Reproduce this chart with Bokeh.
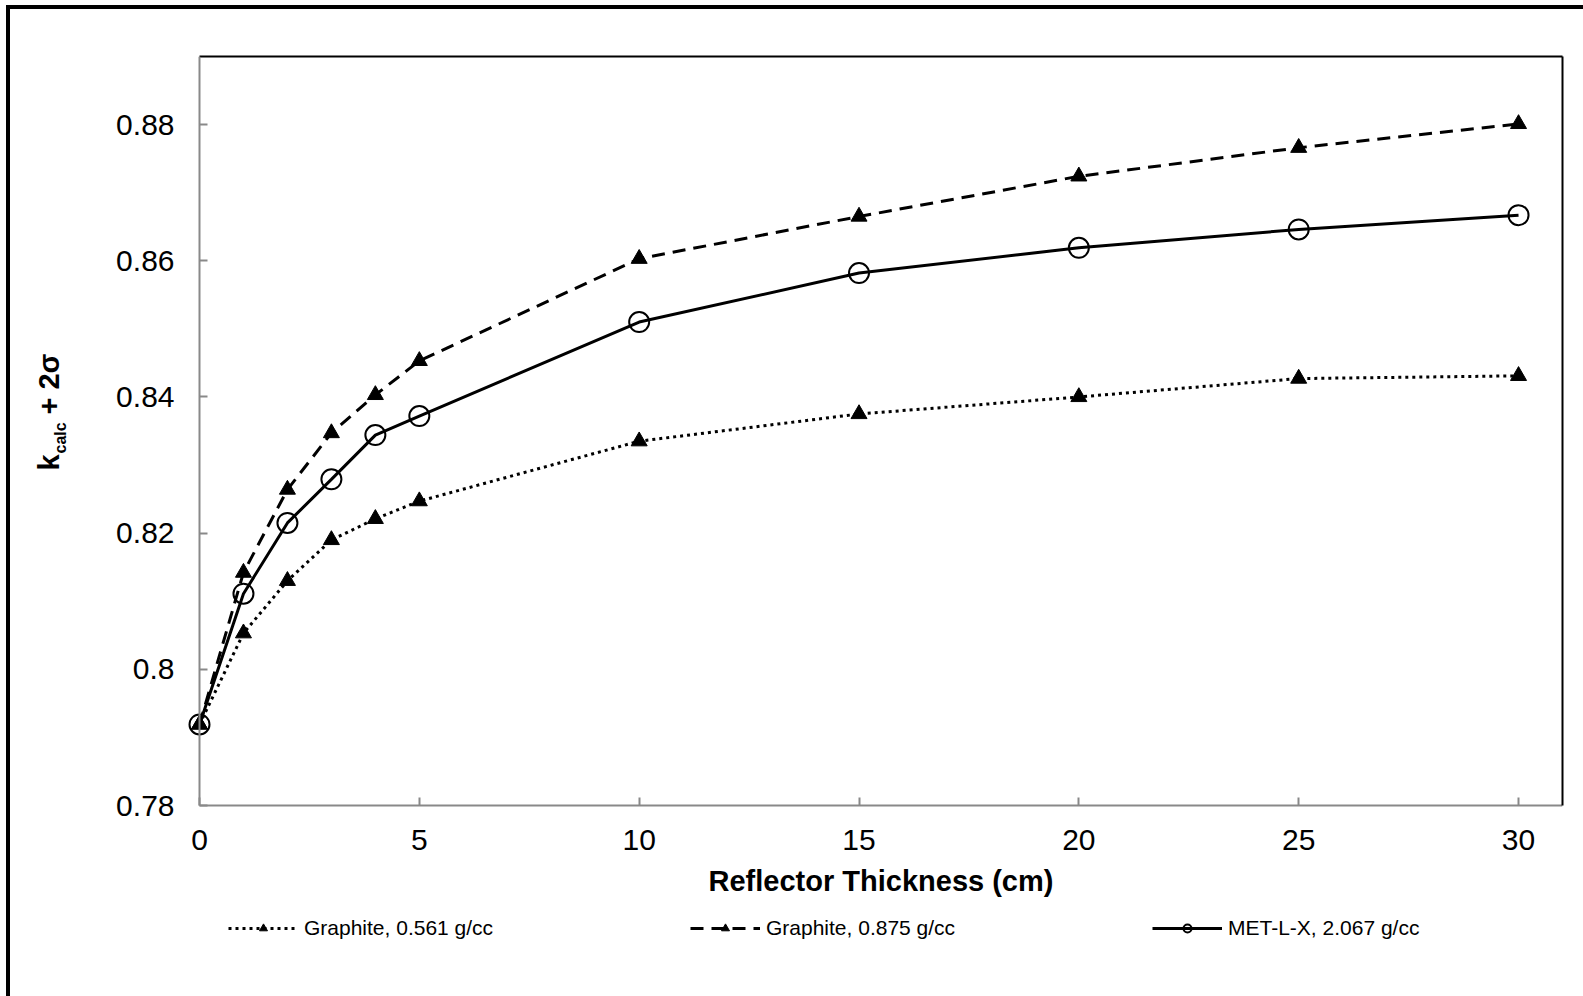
import math
from bokeh.plotting import figure
from bokeh.models import (Range1d, FixedTicker, CustomJSTickFormatter, LinearAxis, Label,
                          Legend, LegendItem)
from bokeh.embed import file_html
from bokeh.resources import INLINE

# ---- data ----
thickness = [0, 1, 2, 3, 4, 5, 10, 15, 20, 25, 30]
graphite_0561 = [0.7919, 0.8053, 0.8130, 0.8190, 0.8221, 0.8247, 0.8335, 0.8375, 0.8400, 0.8427, 0.8431]
graphite_0875 = [0.7919, 0.8142, 0.8264, 0.8347, 0.8403, 0.8453, 0.8603, 0.8665, 0.8724, 0.8766, 0.8801]
met_l_x = [0.7919, 0.8111, 0.8215, 0.8279, 0.8344, 0.8372, 0.8510, 0.8582, 0.8619, 0.8646, 0.8667]
series_names = ["Graphite, 0.561 g/cc", "Graphite, 0.875 g/cc", "MET-L-X, 2.067 g/cc"]
x_ticks = [0, 5, 10, 15, 20, 25, 30]
y_ticks = [0.78, 0.8, 0.82, 0.84, 0.86, 0.88]
x_title = "Reflector Thickness (cm)"
x_min, x_max = 0, 31
y_min, y_max = 0.78, 0.89

FONT = "Liberation Sans"
GRAY = "#898989"
OFFX, OFFY = 10, 9   # outer frame (css border) offset

# the drawing frame is extended left and down so that axes, tick labels and legend
# all sit inside it; the axes themselves are pinned at x = 0 and y = 0.78
FRAME_LEFT, AXIS_X, FRAME_RIGHT = 70, 178, 1541
FRAME_TOP, AXIS_Y, PAGE_BOTTOM = 56, 805, 996
px_per_y = (AXIS_Y - FRAME_TOP) / (y_max - y_min)
y_low = y_min - (PAGE_BOTTOM - AXIS_Y) / px_per_y
px_per_x = (FRAME_RIGHT - AXIS_X) / (x_max - x_min)
x_low = x_min - (AXIS_X - FRAME_LEFT) / px_per_x

p = figure(frame_width=FRAME_RIGHT - FRAME_LEFT, frame_height=PAGE_BOTTOM - FRAME_TOP,
           output_backend="svg", toolbar_location=None,
           x_range=Range1d(x_low, x_max), y_range=Range1d(y_low, y_max),
           min_border_left=FRAME_LEFT - OFFX, min_border_right=42, min_border_top=FRAME_TOP - OFFY,
           min_border_bottom=0, background_fill_color="white", border_fill_color="white")
p.styles = {"margin-left": "6px", "margin-top": "5px",
            "border-left": "4px solid black", "border-top": "4px solid black"}
p.outline_line_color = None
p.grid.visible = False

for ax in (p.xaxis[0], p.yaxis[0]):
    ax.axis_line_color = GRAY
    ax.axis_line_width = 2
    ax.major_tick_line_color = GRAY
    ax.major_tick_line_width = 2
    ax.major_tick_in = 8
    ax.major_tick_out = 0
    ax.minor_tick_line_color = None
    ax.major_label_text_font = FONT
    ax.major_label_text_font_size = "30px"
    ax.major_label_text_color = "black"

p.xaxis[0].fixed_location = y_min
p.xaxis[0].bounds = (x_min, x_max)
p.yaxis[0].fixed_location = x_min
p.yaxis[0].bounds = (y_min, y_max)
p.xaxis[0].ticker = FixedTicker(ticks=x_ticks)
p.yaxis[0].ticker = FixedTicker(ticks=y_ticks)
p.yaxis[0].formatter = CustomJSTickFormatter(code="return tick.toString();")
p.xaxis[0].major_label_standoff = 24
p.yaxis[0].major_label_standoff = 25
p.xaxis[0].axis_label = x_title
p.xaxis[0].axis_label_text_font = FONT
p.xaxis[0].axis_label_text_font_style = "bold"
p.xaxis[0].axis_label_text_font_size = "29px"
p.xaxis[0].axis_label_text_color = "black"
p.xaxis[0].axis_label_standoff = 12

# black top/right frame edges
for side in ("right", "above"):
    a = LinearAxis(axis_line_color="black", axis_line_width=2, major_tick_line_color=None,
                   minor_tick_line_color=None, major_label_text_font_size="0px",
                   ticker=FixedTicker(ticks=[]))
    a.bounds = (y_min, y_max) if side == "right" else (x_min, x_max)
    p.add_layout(a, side)

# ---- series ----
r1l = p.line(thickness, graphite_0561, line_color="black", line_width=3, line_dash="3 4")
r1m = p.scatter(thickness, graphite_0561, marker="triangle", size=16, fill_color="black", line_color="black")
r2l = p.line(thickness, graphite_0875, line_color="black", line_width=3, line_dash="13 8")
r2m = p.scatter(thickness, graphite_0875, marker="triangle", size=16, fill_color="black", line_color="black")
r3l = p.line(thickness, met_l_x, line_color="black", line_width=3)
r3m = p.scatter(thickness, met_l_x, marker="circle", size=20, fill_color=None, line_color="black", line_width=2)

# legend sits inside the (extended) frame, below the axis title
legend = Legend(items=[LegendItem(label=series_names[0], renderers=[r1l, r1m]),
                       LegendItem(label=series_names[1], renderers=[r2l, r2m]),
                       LegendItem(label=series_names[2], renderers=[r3l, r3m])],
                orientation="horizontal", location=(207 - FRAME_LEFT, 56), spacing=0,
                glyph_width=70, glyph_height=20, label_standoff=6, label_height=20, label_width=386,
                label_text_font=FONT, label_text_font_size="21px", label_text_color="black",
                border_line_color=None, background_fill_alpha=0, padding=0, margin=0)
p.add_layout(legend, "center")

# ---- y axis title: k_calc + 2σ ----
ytitle_parts = ["k", "calc", " + 2σ"]
def ylab(x, y, txt, size):
    p.add_layout(Label(x=x - OFFX, y=y - OFFY, x_units="canvas", y_units="canvas", text=txt, angle=math.pi / 2,
                       text_font=FONT, text_font_style="bold", text_font_size=size,
                       text_align="left", text_baseline="alphabetic", text_color="black"), "left")
ylab(44, 466, ytitle_parts[0], "29px")
ylab(56, 449, ytitle_parts[1], "16px")
ylab(44, 410, ytitle_parts[2], "29px")

open("out.html", "w").write(file_html(p, INLINE))
